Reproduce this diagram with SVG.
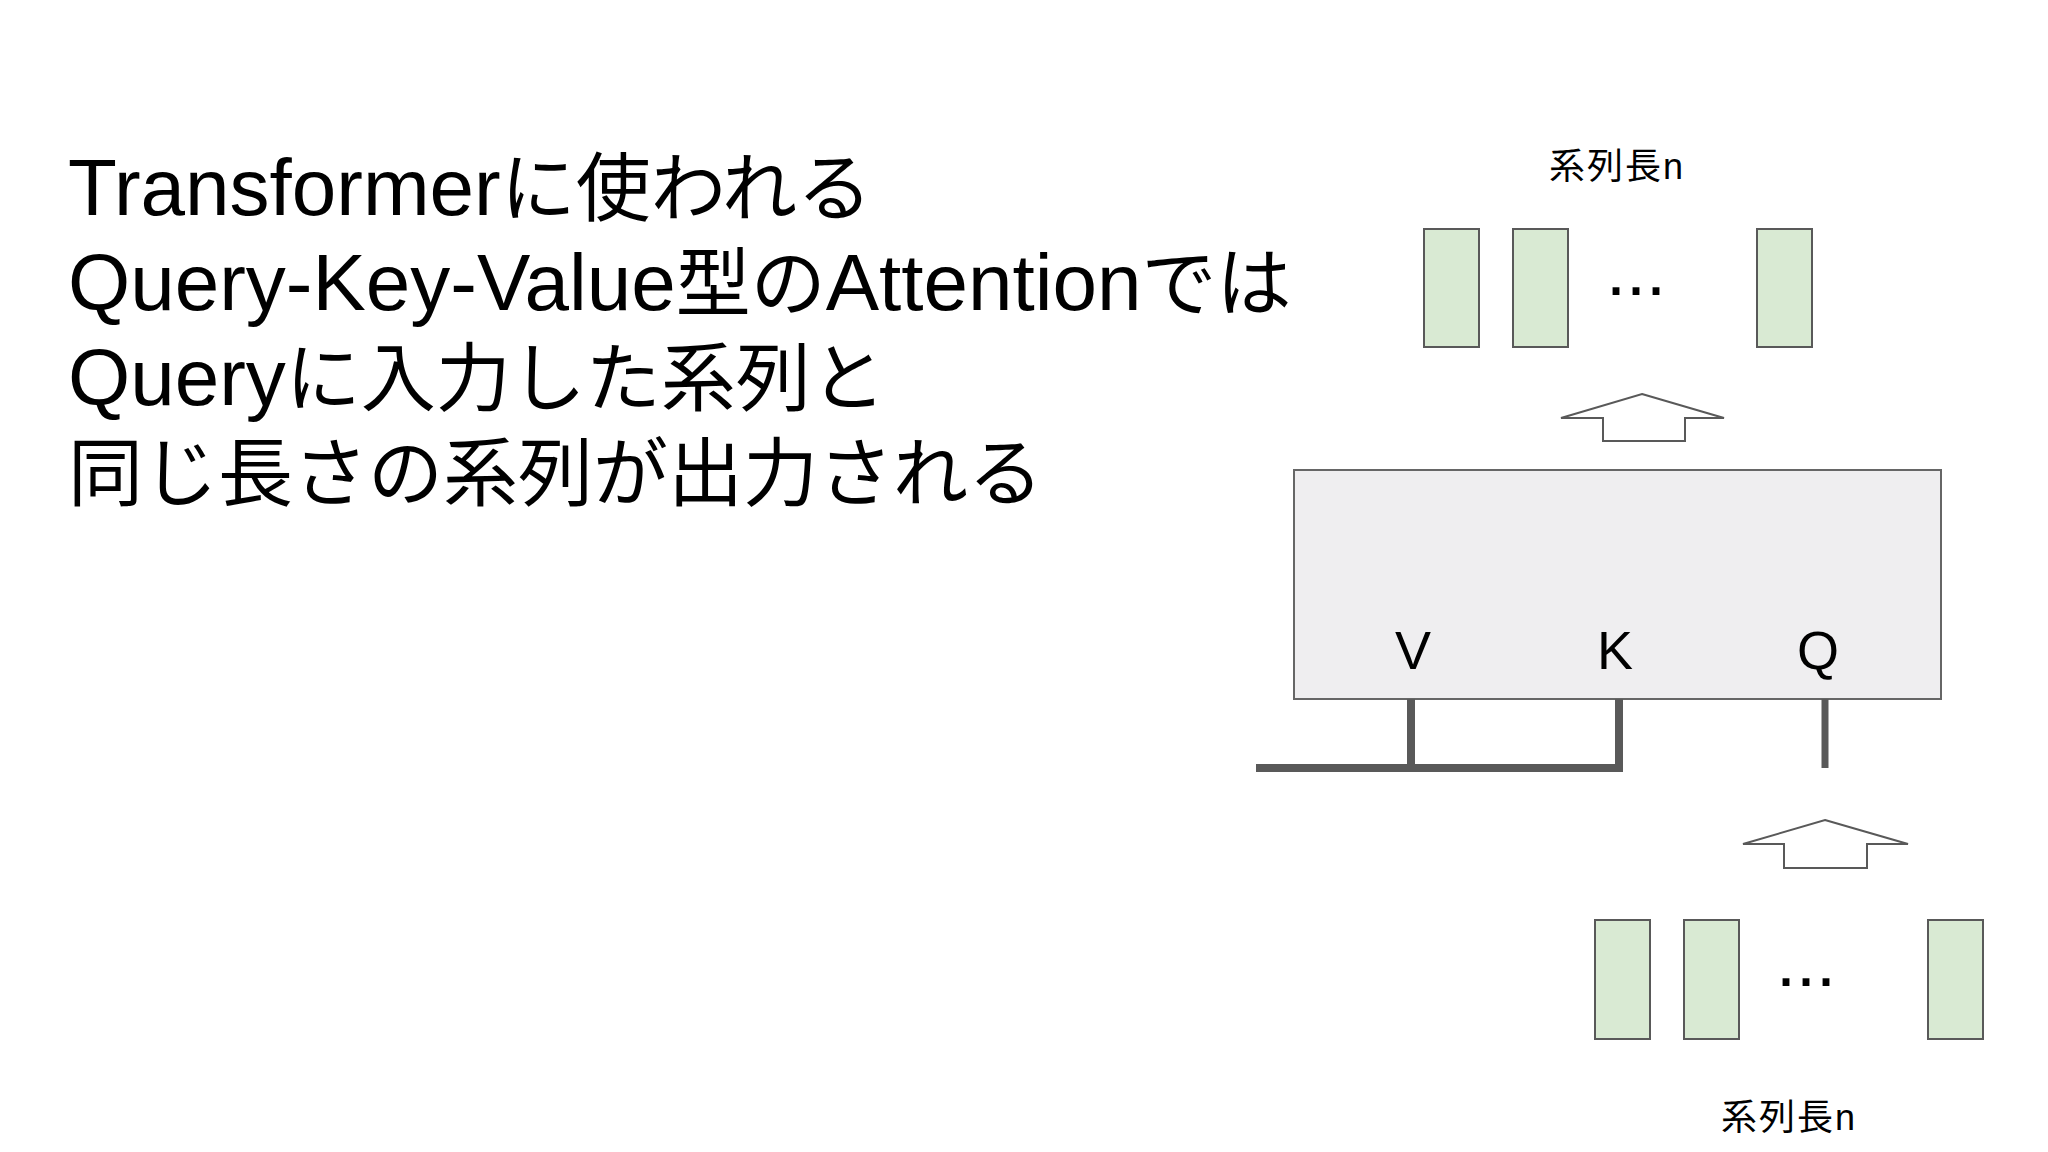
<svg xmlns="http://www.w3.org/2000/svg" width="2048" height="1152" viewBox="0 0 2048 1152">
<style>
.title{font-family:"Liberation Sans","Noto Sans CJK JP",sans-serif;font-size:80px;fill:#000}
.jp{font-size:75px}
.lbl{font-family:"Liberation Sans","Noto Sans CJK JP",sans-serif;font-size:36px;fill:#000;text-anchor:middle;letter-spacing:2px}
.cell{fill:#d9ead3;stroke:#595959;stroke-width:2}
.dots{font-family:"Liberation Sans",sans-serif;font-size:72px;fill:#000;text-anchor:middle}
.arrow{fill:#fff;stroke:#595959;stroke-width:2;stroke-linejoin:miter}
.box{fill:#efeef0;stroke:#666;stroke-width:2}
.port{font-family:"Liberation Sans",sans-serif;font-size:54px;fill:#000;text-anchor:middle}
.wire{stroke:#595959;stroke-width:8;fill:none}
</style>
<rect width="2048" height="1152" fill="#fff"/>
<g id="title">
<text class="title" x="68" y="215">Transformer<tspan class="jp">に使われる</tspan></text>
<text class="title" x="68" y="310">Query-Key-Value<tspan class="jp">型の</tspan>Attention<tspan class="jp">では</tspan></text>
<text class="title" x="68" y="405">Query<tspan class="jp">に入力した系列と</tspan></text>
<text class="title" x="68" y="500"><tspan class="jp">同じ長さの系列が出力される</tspan></text>
</g>
<g id="output-seq">
<text class="lbl" x="1617" y="179">系列長n</text>
<rect class="cell" x="1424" y="229" width="55" height="118"/>
<rect class="cell" x="1513" y="229" width="55" height="118"/>
<rect class="cell" x="1757" y="229" width="55" height="118"/>
<text class="dots" x="1636" y="295">...</text>
</g>
<g id="output-arrow">
<path class="arrow" d="M1642,394 L1724,418 L1685,418 L1685,441 L1603,441 L1603,418 L1561,418 Z"/>
</g>
<g id="attention">
<rect class="box" x="1294" y="470" width="647" height="229"/>
<text class="port" x="1413" y="669">V</text>
<text class="port" x="1615" y="669">K</text>
<text class="port" x="1818" y="669">Q</text>
</g>
<g id="input-arrow">
<path class="arrow" d="M1825,820 L1908,844 L1867,844 L1867,868 L1784,868 L1784,844 L1743,844 Z"/>
</g>
<g id="input-seq">
<rect class="cell" x="1595" y="920" width="55" height="119"/>
<rect class="cell" x="1684" y="920" width="55" height="119"/>
<rect class="cell" x="1928" y="920" width="55" height="119"/>
<text class="dots" x="1806" y="986">...</text>
<text class="lbl" x="1789" y="1130">系列長n</text>
</g>
<g id="connectors">
<path class="wire" d="M1256,768 H1619 V699"/>
<path class="wire" d="M1411,699 V768"/>
<path class="wire" d="M1825,699 V768" style="stroke-width:7"/>
</g>
</svg>
